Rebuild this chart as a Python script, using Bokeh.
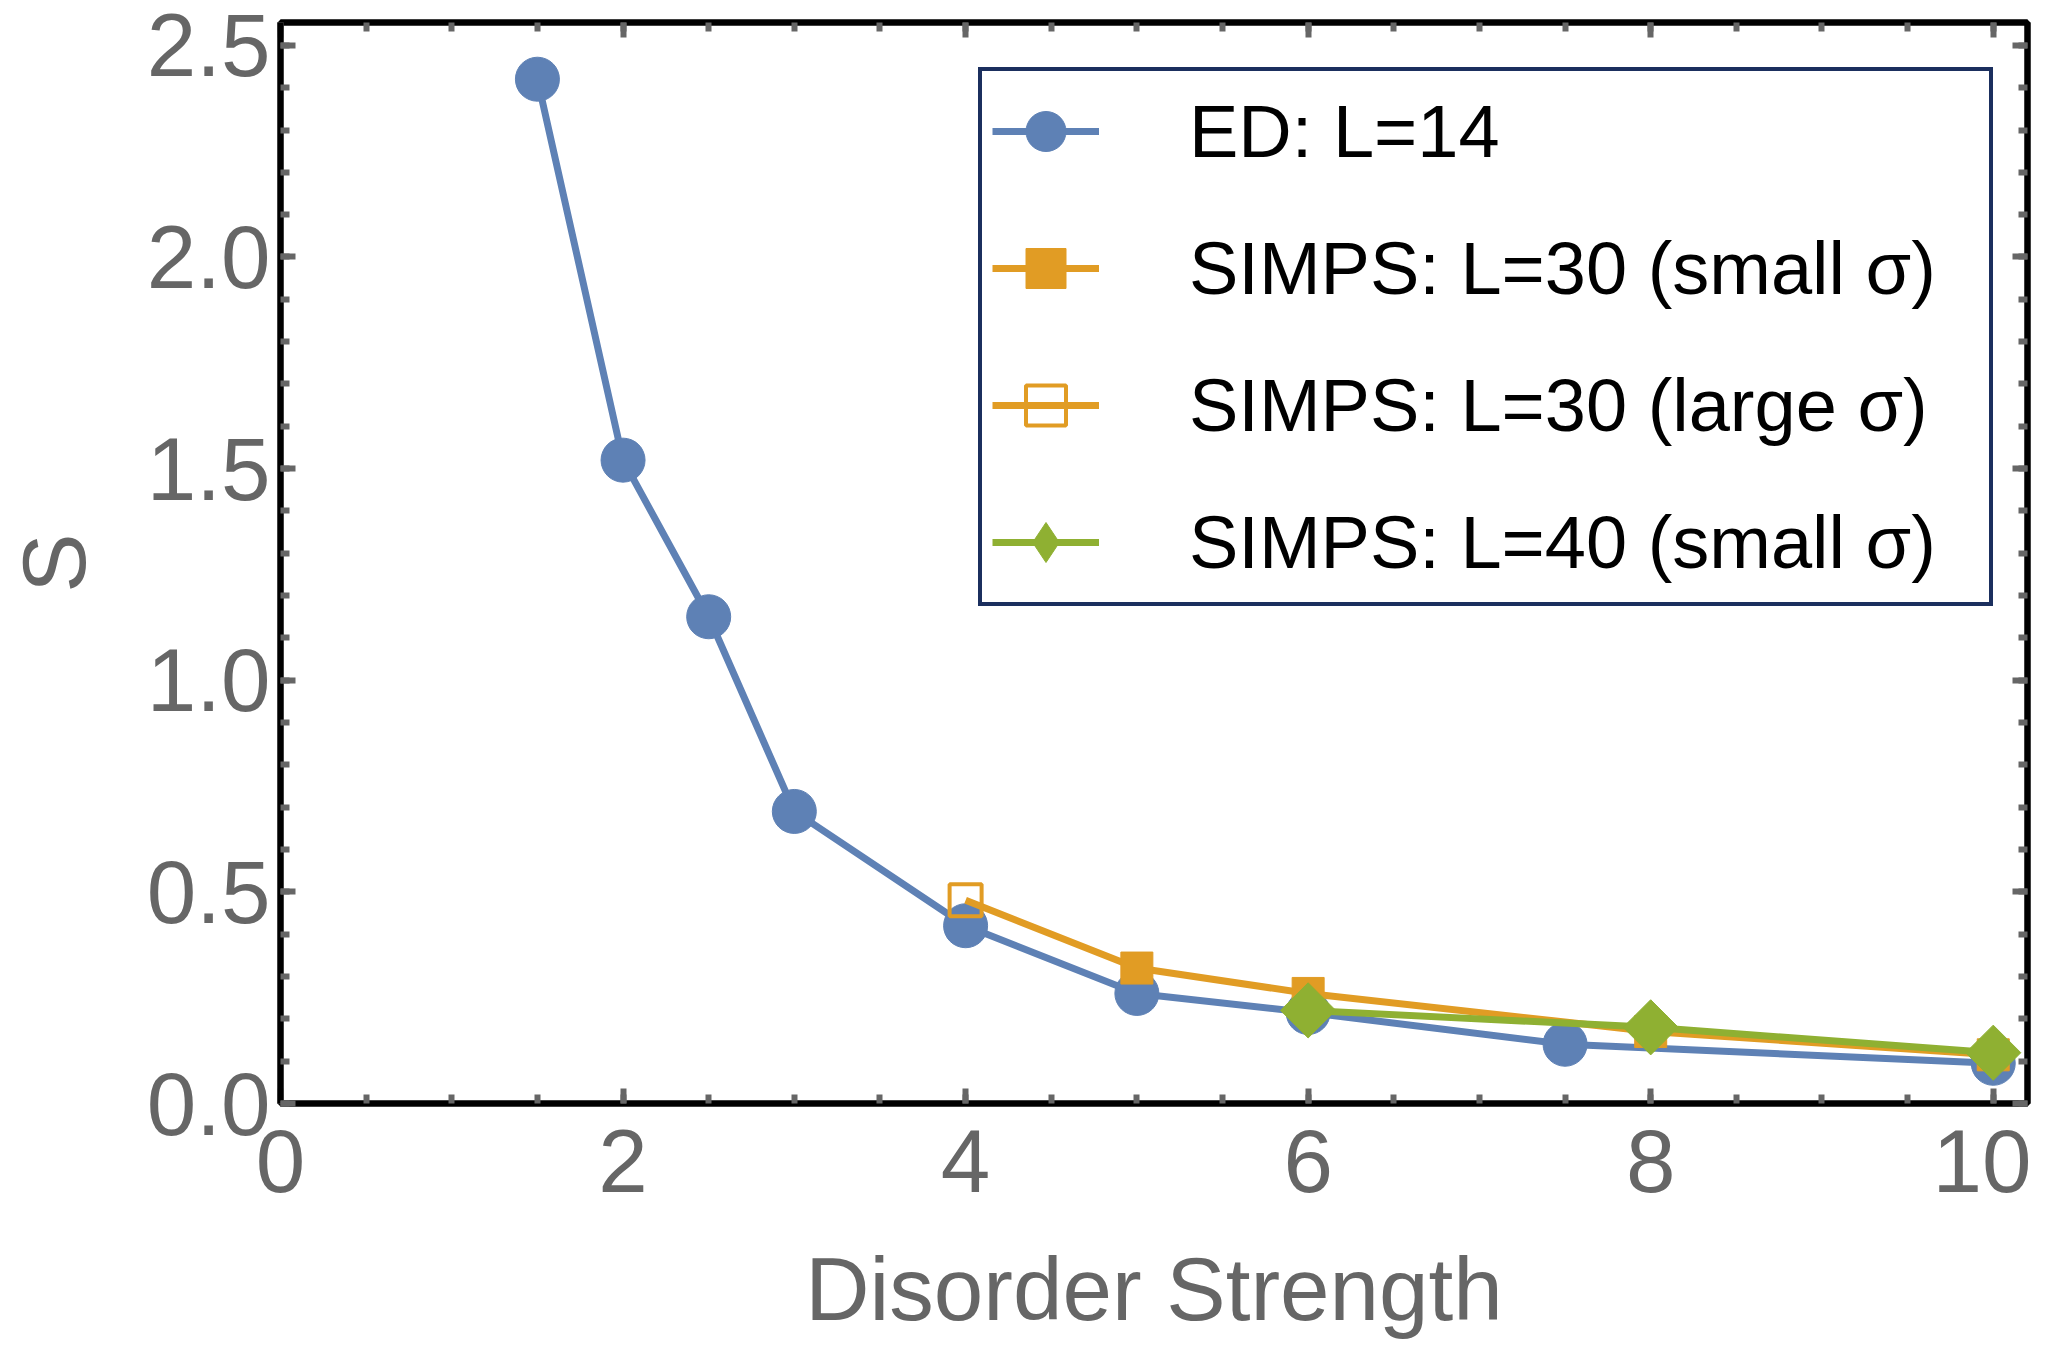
from bokeh.plotting import figure
from bokeh.models import (Range1d, SingleIntervalTicker, LinearAxis, Legend, LegendItem,
                          PrintfTickFormatter, ColumnDataSource)
from bokeh.embed import file_html
from bokeh.resources import INLINE
import math

# ---- data ----
ed_x = [1.5, 2, 2.5, 3, 4, 5, 6, 7.5, 10]
ed_y = [2.42, 1.52, 1.15, 0.69, 0.42, 0.26, 0.215, 0.14, 0.095]

l30_small_x = [5, 6, 8, 10]
l30_small_y = [0.32, 0.26, 0.17, 0.115]

l30_large_x = [4]
l30_large_y = [0.48]

l40_small_x = [6, 8, 10]
l40_small_y = [0.22, 0.18, 0.12]

labels = ["ED: L=14", "SIMPS: L=30 (small σ)", "SIMPS: L=30 (large σ)", "SIMPS: L=40 (small σ)"]

BLUE = "#5E81B5"
ORANGE = "#E19C24"
GREEN = "#8FB032"
FONT = "Liberation Sans"
GRAY = "#666666"

p = figure(width=2031, height=1341, output_backend="svg", toolbar_location=None,
           x_range=Range1d(0, 10.2), y_range=Range1d(0, 2.554),
           min_border_left=269, min_border_right=4, min_border_top=22, min_border_bottom=226)
p.grid.visible = False
p.outline_line_color = "black"
p.outline_line_width = 6
p.background_fill_color = "white"
p.border_fill_color = "white"


def style_axis(ax, show_labels):
    ax.axis_line_color = "black"
    ax.axis_line_width = 6
    ax.major_tick_in = 15
    ax.major_tick_out = 0
    ax.minor_tick_in = 9
    ax.minor_tick_out = 0
    ax.major_tick_line_color = GRAY
    ax.minor_tick_line_color = GRAY
    ax.major_tick_line_width = 6
    ax.minor_tick_line_width = 6
    if show_labels:
        ax.major_label_text_font = FONT
        ax.major_label_text_font_size = "89px"
        ax.major_label_text_color = GRAY
        ax.axis_label_text_font = FONT
        ax.axis_label_text_font_size = "89px"
        ax.axis_label_text_color = GRAY
        ax.axis_label_text_font_style = "normal"
    else:
        ax.formatter = PrintfTickFormatter(format="")
        ax.major_label_standoff = 0


p.xaxis.ticker = SingleIntervalTicker(interval=2, num_minor_ticks=4)
p.yaxis.ticker = SingleIntervalTicker(interval=0.5, num_minor_ticks=5)
p.yaxis.formatter = PrintfTickFormatter(format="%.1f")
p.xaxis.axis_label = "Disorder Strength"
p.yaxis.axis_label = "S"
style_axis(p.xaxis[0], True)
style_axis(p.yaxis[0], True)
p.xaxis.major_label_standoff = 26
p.xaxis.axis_label_standoff = 44
p.yaxis.major_label_standoff = 10
p.yaxis.axis_label_standoff = 40

top = LinearAxis(ticker=SingleIntervalTicker(interval=2, num_minor_ticks=4))
right = LinearAxis(ticker=SingleIntervalTicker(interval=0.5, num_minor_ticks=5))
style_axis(top, False)
style_axis(right, False)
p.add_layout(top, "above")
p.add_layout(right, "right")

# ---- series ----
ed_src = ColumnDataSource(dict(x=ed_x, y=ed_y))
s30_src = ColumnDataSource(dict(x=l30_small_x, y=l30_small_y))
l30_src = ColumnDataSource(dict(x=l30_large_x, y=l30_large_y))
o_line_src = ColumnDataSource(dict(x=l30_large_x + l30_small_x, y=l30_large_y + l30_small_y))
s40_src = ColumnDataSource(dict(x=l40_small_x, y=l40_small_y))

LW = 7
ed_line = p.line("x", "y", source=ed_src, line_color=BLUE, line_width=LW)
ed_pts = p.scatter("x", "y", source=ed_src, marker="circle", size=44, fill_color=BLUE, line_color=BLUE)

o_line = p.line("x", "y", source=o_line_src, line_color=ORANGE, line_width=LW)
s30_pts = p.scatter("x", "y", source=s30_src, marker="square", size=32, fill_color=ORANGE, line_color=ORANGE)
l30_pts = p.scatter("x", "y", source=l30_src, marker="square", size=32, fill_color="white", fill_alpha=0.0,
                    line_color=ORANGE, line_width=4)

g_line = p.line("x", "y", source=s40_src, line_color=GREEN, line_width=LW)
g_pts = p.scatter("x", "y", source=s40_src, marker="square", angle=math.pi / 4, size=39,
                  fill_color=GREEN, line_color=GREEN)
# legend-only diamond (legend glyphs are never rotated)
g_leg = p.scatter(x=[float("nan")], y=[float("nan")], marker="diamond", size=39,
                  fill_color=GREEN, line_color=GREEN)

legend = Legend(items=[
    LegendItem(label=labels[0], renderers=[ed_line, ed_pts]),
    LegendItem(label=labels[1], renderers=[o_line, s30_pts]),
    LegendItem(label=labels[2], renderers=[o_line, l30_pts]),
    LegendItem(label=labels[3], renderers=[g_line, g_leg]),
], location=(698, 497))
legend.label_text_font = FONT
legend.label_text_font_size = "74px"
legend.label_text_color = "black"
legend.label_height = 80
legend.glyph_height = 100
legend.glyph_width = 107
legend.spacing = 37
legend.padding = 10
legend.margin = 0
legend.label_standoff = 90
legend.label_width = 790
legend.border_line_color = "#1B2F5E"
legend.border_line_alpha = 1.0
legend.border_line_width = 4
legend.background_fill_color = "white"
legend.background_fill_alpha = 1.0
p.add_layout(legend, "center")

open("out.html", "w").write(file_html(p, INLINE))
